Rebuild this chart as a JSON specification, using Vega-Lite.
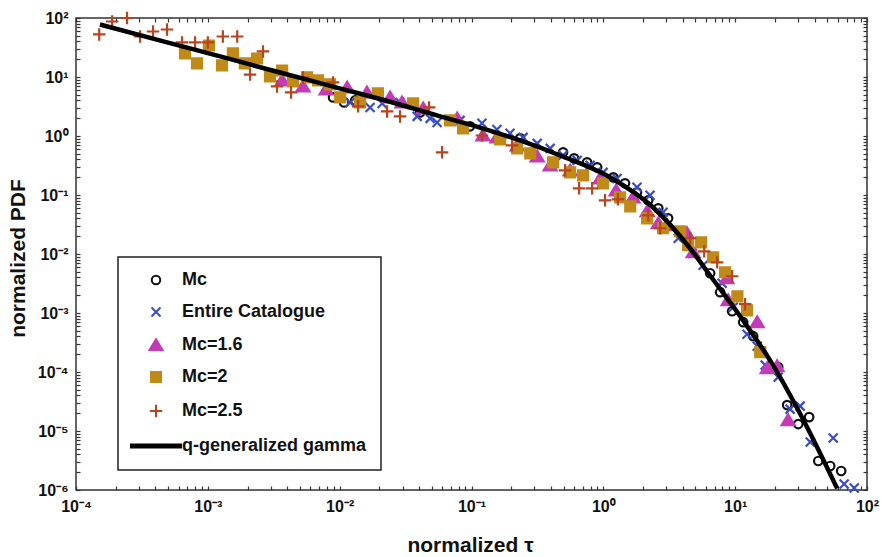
{
  "$schema": "https://vega.github.io/schema/vega-lite/v6.json",
  "width": 791,
  "height": 472,
  "autosize": {"type": "none"},
  "padding": {"left": 76, "top": 18, "right": 16, "bottom": 67},
  "background": "white",
  "config": {
    "view": {"stroke": "#333333", "strokeWidth": 1.5},
    "font": "Liberation Sans",
    "axis": {
      "domain": false, "grid": false,
      "labelFont": "Liberation Sans", "labelFontWeight": "bold", "labelFontSize": 16, "labelColor": "#111111",
      "titleFont": "Liberation Sans", "titleFontWeight": "bold", "titleFontSize": 21, "titleColor": "#111111",
      "ticks": true, "tickColor": "#333333", "tickWidth": 1.2, "tickSize": -4, "labelPadding": 12,
      "labelOverlap": false, "labelFlush": false, "labelBound": false
    },
    "legend": {
      "orient": "none", "legendX": 42, "legendY": 239,
      "padding": 14, "strokeColor": "#222222", "fillColor": "white",
      "labelFont": "Liberation Sans", "labelFontSize": 18, "labelFontWeight": "bold", "labelColor": "#111111",
      "labelLimit": 400, "labelOffset": 17, "symbolOffset": 15, "symbolSize": 100,
      "symbolStrokeWidth": 2, "rowPadding": 14, "symbolOpacity": 1
    }
  },
  "datasets": {
    "pts": [
      {"s":"Mc","t":0.00891,"p":4.51},{"s":"Mc","t":0.0108,"p":3.71},{"s":"Mc","t":0.0131,"p":4.01},{"s":"Mc","t":0.0407,"p":2.51},{"s":"Mc","t":0.0975,"p":1.46},{"s":"Mc","t":0.234,"p":0.912},{"s":"Mc","t":0.495,"p":0.528},{"s":"Mc","t":0.6,"p":0.418},{"s":"Mc","t":0.753,"p":0.357},{"s":"Mc","t":0.898,"p":0.294},{"s":"Mc","t":1.19,"p":0.199},{"s":"Mc","t":1.46,"p":0.158},{"s":"Mc","t":1.8,"p":0.111},{"s":"Mc","t":2.19,"p":0.0813},{"s":"Mc","t":2.61,"p":0.0594},{"s":"Mc","t":3.1,"p":0.0403},{"s":"Mc","t":6.46,"p":0.00472},{"s":"Mc","t":7.69,"p":0.00225},{"s":"Mc","t":9.48,"p":0.00107},{"s":"Mc","t":11.5,"p":0.000698},{"s":"Mc","t":13.7,"p":0.000405},{"s":"Mc","t":21.2,"p":0.000121},{"s":"Mc","t":24.8,"p":0.0000275},{"s":"Mc","t":30.1,"p":0.0000131},{"s":"Mc","t":36.4,"p":0.0000172},{"s":"Mc","t":42.7,"p":0.0000031},{"s":"Mc","t":52.6,"p":0.00000255},{"s":"Mc","t":63.7,"p":0.0000021},
      {"s":"Entire Catalogue","t":0.012,"p":3.71},{"s":"Entire Catalogue","t":0.017,"p":3.05},{"s":"Entire Catalogue","t":0.021,"p":3.56},{"s":"Entire Catalogue","t":0.0287,"p":3.71},{"s":"Entire Catalogue","t":0.0387,"p":2.15},{"s":"Entire Catalogue","t":0.0485,"p":1.99},{"s":"Entire Catalogue","t":0.0548,"p":1.7},{"s":"Entire Catalogue","t":0.0819,"p":1.84},{"s":"Entire Catalogue","t":0.12,"p":1.64},{"s":"Entire Catalogue","t":0.156,"p":1.29},{"s":"Entire Catalogue","t":0.196,"p":1.11},{"s":"Entire Catalogue","t":0.246,"p":0.948},{"s":"Entire Catalogue","t":0.315,"p":0.75},{"s":"Entire Catalogue","t":0.395,"p":0.617},{"s":"Entire Catalogue","t":0.495,"p":0.47},{"s":"Entire Catalogue","t":0.633,"p":0.386},{"s":"Entire Catalogue","t":0.794,"p":0.318},{"s":"Entire Catalogue","t":0.996,"p":0.242},{"s":"Entire Catalogue","t":1.27,"p":0.191},{"s":"Entire Catalogue","t":1.8,"p":0.135},{"s":"Entire Catalogue","t":2.26,"p":0.0988},{"s":"Entire Catalogue","t":2.84,"p":0.0509},{"s":"Entire Catalogue","t":3.7,"p":0.0185},{"s":"Entire Catalogue","t":4.72,"p":0.0103},{"s":"Entire Catalogue","t":5.72,"p":0.00644},{"s":"Entire Catalogue","t":7.96,"p":0.00319},{"s":"Entire Catalogue","t":9.66,"p":0.00125},{"s":"Entire Catalogue","t":12.3,"p":0.000438},{"s":"Entire Catalogue","t":14.7,"p":0.000274},{"s":"Entire Catalogue","t":16.9,"p":0.000131},{"s":"Entire Catalogue","t":21.2,"p":0.0000818},{"s":"Entire Catalogue","t":26.1,"p":0.0000235},{"s":"Entire Catalogue","t":31.1,"p":0.0000264},{"s":"Entire Catalogue","t":37.1,"p":0.0000065},{"s":"Entire Catalogue","t":55.4,"p":0.00000759},{"s":"Entire Catalogue","t":67.1,"p":0.00000126},{"s":"Entire Catalogue","t":80,"p":0.00000108},
      {"s":"Mc=1.6","t":0.00366,"p":8.75},{"s":"Mc=1.6","t":0.00527,"p":6.92},{"s":"Mc=1.6","t":0.00789,"p":6.15},{"s":"Mc=1.6","t":0.0114,"p":6.65},{"s":"Mc=1.6","t":0.0161,"p":5.48},{"s":"Mc=1.6","t":0.0241,"p":4.51},{"s":"Mc=1.6","t":0.0297,"p":3.71},{"s":"Mc=1.6","t":0.043,"p":2.94},{"s":"Mc=1.6","t":0.0778,"p":1.99},{"s":"Mc=1.6","t":0.122,"p":1.02},{"s":"Mc=1.6","t":0.156,"p":0.948},{"s":"Mc=1.6","t":0.222,"p":0.693},{"s":"Mc=1.6","t":0.315,"p":0.452},{"s":"Mc=1.6","t":0.395,"p":0.318},{"s":"Mc=1.6","t":0.56,"p":0.262},{"s":"Mc=1.6","t":0.946,"p":0.191},{"s":"Mc=1.6","t":1.25,"p":0.12},{"s":"Mc=1.6","t":1.68,"p":0.0914},{"s":"Mc=1.6","t":2.15,"p":0.053},{"s":"Mc=1.6","t":2.61,"p":0.0332},{"s":"Mc=1.6","t":3.05,"p":0.0307},{"s":"Mc=1.6","t":4.32,"p":0.0225},{"s":"Mc=1.6","t":4.8,"p":0.0107},{"s":"Mc=1.6","t":8.65,"p":0.00388},{"s":"Mc=1.6","t":8.85,"p":0.00165},{"s":"Mc=1.6","t":14.7,"p":0.000699},{"s":"Mc=1.6","t":17.5,"p":0.000116},{"s":"Mc=1.6","t":20.8,"p":0.000126},{"s":"Mc=1.6","t":25.2,"p":0.0000153},
      {"s":"Mc=2","t":0.000671,"p":25.1},{"s":"Mc=2","t":0.000828,"p":17.0},{"s":"Mc=2","t":0.00102,"p":34.2},{"s":"Mc=2","t":0.00128,"p":15.7},{"s":"Mc=2","t":0.00155,"p":25.1},{"s":"Mc=2","t":0.00191,"p":17.0},{"s":"Mc=2","t":0.00236,"p":20.6},{"s":"Mc=2","t":0.00296,"p":10.2},{"s":"Mc=2","t":0.00366,"p":12.9},{"s":"Mc=2","t":0.00443,"p":8.41},{"s":"Mc=2","t":0.00566,"p":9.84},{"s":"Mc=2","t":0.00686,"p":8.75},{"s":"Mc=2","t":0.00845,"p":7.48},{"s":"Mc=2","t":0.0101,"p":4.51},{"s":"Mc=2","t":0.0143,"p":3.71},{"s":"Mc=2","t":0.0195,"p":5.27},{"s":"Mc=2","t":0.0361,"p":3.56},{"s":"Mc=2","t":0.0688,"p":1.84},{"s":"Mc=2","t":0.0863,"p":1.35},{"s":"Mc=2","t":0.165,"p":0.877},{"s":"Mc=2","t":0.222,"p":0.617},{"s":"Mc=2","t":0.279,"p":0.508},{"s":"Mc=2","t":0.416,"p":0.357},{"s":"Mc=2","t":0.56,"p":0.242},{"s":"Mc=2","t":0.703,"p":0.215},{"s":"Mc=2","t":0.996,"p":0.158},{"s":"Mc=2","t":1.34,"p":0.0914},{"s":"Mc=2","t":1.6,"p":0.0644},{"s":"Mc=2","t":2.15,"p":0.0403},{"s":"Mc=2","t":2.84,"p":0.0273},{"s":"Mc=2","t":3.83,"p":0.0243},{"s":"Mc=2","t":4.4,"p":0.0141},{"s":"Mc=2","t":5.52,"p":0.0158},{"s":"Mc=2","t":6.81,"p":0.00881},{"s":"Mc=2","t":8.39,"p":0.00491},{"s":"Mc=2","t":10.4,"p":0.00192},{"s":"Mc=2","t":12.3,"p":0.00111},{"s":"Mc=2","t":15.5,"p":0.000217},
      {"s":"Mc=2.5","t":0.00015,"p":52.6},{"s":"Mc=2.5","t":0.000188,"p":87.3},{"s":"Mc=2.5","t":0.000244,"p":100},{"s":"Mc=2.5","t":0.000306,"p":48.6},{"s":"Mc=2.5","t":0.000384,"p":59.0},{"s":"Mc=2.5","t":0.00049,"p":63.9},{"s":"Mc=2.5","t":0.000637,"p":38.5},{"s":"Mc=2.5","t":0.0008,"p":38.5},{"s":"Mc=2.5","t":0.001,"p":38.5},{"s":"Mc=2.5","t":0.0013,"p":48.6},{"s":"Mc=2.5","t":0.00167,"p":48.6},{"s":"Mc=2.5","t":0.00209,"p":11.0},{"s":"Mc=2.5","t":0.00262,"p":27.1},{"s":"Mc=2.5","t":0.00335,"p":6.92},{"s":"Mc=2.5","t":0.00428,"p":5.48},{"s":"Mc=2.5","t":0.00527,"p":9.83},{"s":"Mc=2.5","t":0.00891,"p":8.09},{"s":"Mc=2.5","t":0.0138,"p":3.18},{"s":"Mc=2.5","t":0.0229,"p":2.61},{"s":"Mc=2.5","t":0.0287,"p":2.15},{"s":"Mc=2.5","t":0.0477,"p":3.05},{"s":"Mc=2.5","t":0.0598,"p":0.528},{"s":"Mc=2.5","t":0.12,"p":1.02},{"s":"Mc=2.5","t":0.203,"p":0.693},{"s":"Mc=2.5","t":0.513,"p":0.262},{"s":"Mc=2.5","t":0.655,"p":0.13},{"s":"Mc=2.5","t":0.822,"p":0.13},{"s":"Mc=2.5","t":1.03,"p":0.0813},{"s":"Mc=2.5","t":1.29,"p":0.0845},{"s":"Mc=2.5","t":2.19,"p":0.0453},{"s":"Mc=2.5","t":2.7,"p":0.0273},{"s":"Mc=2.5","t":4.56,"p":0.0185},{"s":"Mc=2.5","t":5.82,"p":0.0111},{"s":"Mc=2.5","t":7.3,"p":0.00724},{"s":"Mc=2.5","t":9.48,"p":0.0042},{"s":"Mc=2.5","t":11.9,"p":0.00141}
    ],
    "curve": [
      {"t":0.000152,"p":77.6},{"t":0.000516,"p":37.5},{"t":0.00124,"p":22.3},{"t":0.00353,"p":11.9},{"t":0.01,"p":6.43},{"t":0.0241,"p":3.81},{"t":0.0485,"p":2.41},{"t":0.116,"p":1.39},{"t":0.234,"p":0.839},{"t":0.47,"p":0.467},{"t":1.13,"p":0.198},{"t":2.39,"p":0.0614},{"t":4.56,"p":0.0124},{"t":6.46,"p":0.00432},{"t":11.5,"p":0.000746},{"t":18.4,"p":0.000157},{"t":35.2,"p":0.0000115},{"t":59.4,"p":0.00000106}
    ]
  },
  "layer": [
    {
      "data": {"name": "pts"},
      "mark": {"type": "point", "size": 100, "strokeWidth": 2.2, "opacity": 1},
      "encoding": {
        "x": {
          "field": "t", "type": "quantitative",
          "scale": {"type": "log", "domain": [0.0001, 100], "nice": false},
          "axis": {
            "orient": "bottom", "title": "normalized τ", "titleX": 394, "titleY": 55, "titleBaseline": "middle", "titleAlign": "center",
            "values": [0.0001,0.0002,0.0003,0.0004,0.0005,0.0006,0.0007,0.0008,0.0009,0.001,0.002,0.003,0.004,0.005,0.006,0.007,0.008,0.009,0.01,0.02,0.03,0.04,0.05,0.06,0.07,0.08,0.09,0.1,0.2,0.3,0.4,0.5,0.6,0.7,0.8,0.9,1,2,3,4,5,6,7,8,9,10,20,30,40,50,60,70,80,90,100],
            "labelExpr": "abs(log(datum.value)/LN10 - round(log(datum.value)/LN10)) < 0.001 ? '10' + replace(replace(replace(replace(replace(replace(replace(replace('' + round(log(datum.value)/LN10), '-', '⁻'), '0', '⁰'), '1', '¹'), '2', '²'), '3', '³'), '4', '⁴'), '5', '⁵'), '6', '⁶') : ''",
            "encode": {"ticks": {"update": {"y2": {"signal": "abs(log(datum.value)/LN10 - round(log(datum.value)/LN10)) < 0.001 ? -7 : -4"}}}}
          }
        },
        "y": {
          "field": "p", "type": "quantitative",
          "scale": {"type": "log", "domain": [0.000001, 100], "nice": false},
          "axis": {
            "orient": "left", "title": "normalized PDF", "titleX": -58, "titleY": 240, "titleAngle": 270, "titleBaseline": "middle", "titleAlign": "center",
            "values": [0.000001,0.000002,0.000003,0.000004,0.000005,0.000006,0.000007,0.000008,0.000009,0.00001,0.00002,0.00003,0.00004,0.00005,0.00006,0.00007,0.00008,0.00009,0.0001,0.0002,0.0003,0.0004,0.0005,0.0006,0.0007,0.0008,0.0009,0.001,0.002,0.003,0.004,0.005,0.006,0.007,0.008,0.009,0.01,0.02,0.03,0.04,0.05,0.06,0.07,0.08,0.09,0.1,0.2,0.3,0.4,0.5,0.6,0.7,0.8,0.9,1,2,3,4,5,6,7,8,9,10,20,30,40,50,60,70,80,90,100],
            "labelExpr": "abs(log(datum.value)/LN10 - round(log(datum.value)/LN10)) < 0.001 ? '10' + replace(replace(replace(replace(replace(replace(replace(replace('' + round(log(datum.value)/LN10), '-', '⁻'), '0', '⁰'), '1', '¹'), '2', '²'), '3', '³'), '4', '⁴'), '5', '⁵'), '6', '⁶') : ''",
            "encode": {"ticks": {"update": {"x2": {"signal": "abs(log(datum.value)/LN10 - round(log(datum.value)/LN10)) < 0.001 ? 7 : 4"}}}}
          }
        },
        "shape": {
          "field": "s", "type": "nominal",
          "scale": {
            "domain": ["Mc", "Entire Catalogue", "Mc=1.6", "Mc=2", "Mc=2.5", "q-generalized gamma"],
            "range": ["M-0.85,0A0.85,0.85,0,1,1,0.85,0A0.85,0.85,0,1,1,-0.85,0Z", "M-0.9,-0.9L0.9,0.9M-0.9,0.9L0.9,-0.9", "M0,-1.15L1.3,1L-1.3,1Z", "M-1,-1H1V1H-1Z", "M-1.25,0H1.25M0,-1.25V1.25", "M-5.2,0H5.2"]
          },
          "legend": {"title": null, "encode": {"symbols": {"update": {"strokeWidth": {"signal": "datum.value === 'q-generalized gamma' ? 5 : 2"}}}, "legend": {"update": {"strokeWidth": {"value": 1.5}}}}}
        },
        "fill": {
          "field": "s", "type": "nominal",
          "scale": {
            "domain": ["Mc", "Entire Catalogue", "Mc=1.6", "Mc=2", "Mc=2.5", "q-generalized gamma"],
            "range": ["transparent", "transparent", "#c33bb5", "#c08a18", "transparent", "transparent"]
          },
          "legend": {"title": null, "encode": {"symbols": {"update": {"strokeWidth": {"signal": "datum.value === 'q-generalized gamma' ? 5 : 2"}}}, "legend": {"update": {"strokeWidth": {"value": 1.5}}}}}
        },
        "stroke": {
          "field": "s", "type": "nominal",
          "scale": {
            "domain": ["Mc", "Entire Catalogue", "Mc=1.6", "Mc=2", "Mc=2.5", "q-generalized gamma"],
            "range": ["#111111", "#3a4cc4", "#c33bb5", "#c08a18", "#b8441e", "#000000"]
          },
          "legend": {"title": null, "encode": {"symbols": {"update": {"strokeWidth": {"signal": "datum.value === 'q-generalized gamma' ? 5 : 2"}}}, "legend": {"update": {"strokeWidth": {"value": 1.5}}}}}
        }
      }
    },
    {
      "data": {"name": "curve"},
      "mark": {"type": "line", "color": "#000000", "strokeWidth": 4.5, "interpolate": "monotone", "clip": true},
      "encoding": {
        "x": {
          "field": "t", "type": "quantitative",
          "scale": {"type": "log", "domain": [0.0001, 100], "nice": false},
          "axis": {
            "orient": "top", "title": null, "labels": false,
            "values": [0.0001,0.0002,0.0003,0.0004,0.0005,0.0006,0.0007,0.0008,0.0009,0.001,0.002,0.003,0.004,0.005,0.006,0.007,0.008,0.009,0.01,0.02,0.03,0.04,0.05,0.06,0.07,0.08,0.09,0.1,0.2,0.3,0.4,0.5,0.6,0.7,0.8,0.9,1,2,3,4,5,6,7,8,9,10,20,30,40,50,60,70,80,90,100],
            "encode": {"ticks": {"update": {"y2": {"signal": "abs(log(datum.value)/LN10 - round(log(datum.value)/LN10)) < 0.001 ? 7 : 4"}}}}
          }
        },
        "y": {
          "field": "p", "type": "quantitative",
          "scale": {"type": "log", "domain": [0.000001, 100], "nice": false},
          "axis": {
            "orient": "right", "title": null, "labels": false,
            "values": [0.000001,0.000002,0.000003,0.000004,0.000005,0.000006,0.000007,0.000008,0.000009,0.00001,0.00002,0.00003,0.00004,0.00005,0.00006,0.00007,0.00008,0.00009,0.0001,0.0002,0.0003,0.0004,0.0005,0.0006,0.0007,0.0008,0.0009,0.001,0.002,0.003,0.004,0.005,0.006,0.007,0.008,0.009,0.01,0.02,0.03,0.04,0.05,0.06,0.07,0.08,0.09,0.1,0.2,0.3,0.4,0.5,0.6,0.7,0.8,0.9,1,2,3,4,5,6,7,8,9,10,20,30,40,50,60,70,80,90,100],
            "encode": {"ticks": {"update": {"x2": {"signal": "abs(log(datum.value)/LN10 - round(log(datum.value)/LN10)) < 0.001 ? -7 : -4"}}}}
          }
        }
      }
    }
  ],
  "resolve": {"axis": {"x": "independent", "y": "independent"}}
}
